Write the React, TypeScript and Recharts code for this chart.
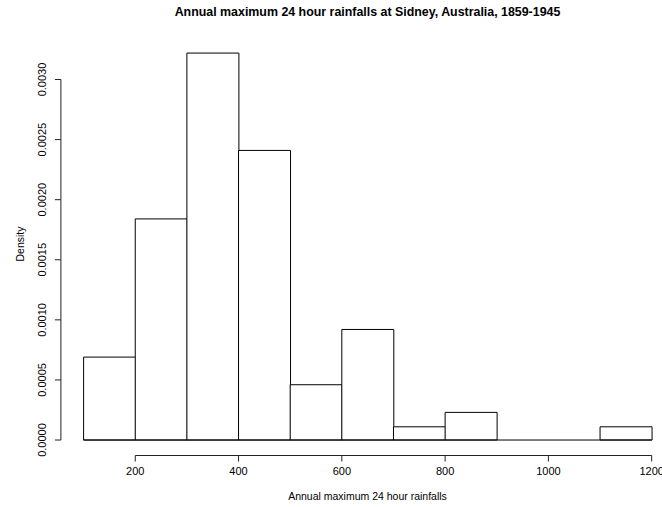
import React from 'react';
import { ComposedChart, Bar, XAxis, YAxis, ReferenceLine } from 'recharts';

// histogram bins (left edges) and densities
const binStarts = [100, 200, 300, 400, 500, 600, 700, 800, 900, 1000, 1100];
const densities = [0.00069, 0.00184, 0.00322, 0.00241, 0.00046, 0.00092, 0.00011, 0.00023, 0, 0, 0.00011];
const xTicks = [200, 400, 600, 800, 1000, 1200];
const yTicks = [0, 0.0005, 0.001, 0.0015, 0.002, 0.0025, 0.003];

const binWidth = 100;
const chartData = binStarts.map((s, i) => ({ bin: s + binWidth / 2, density: densities[i] }));

// R style 4% axis extension
const xMin = binStarts[0];
const xMax = binStarts[binStarts.length - 1] + binWidth;
const xExt = (xMax - xMin) * 0.04;
const yTop = Math.max(...densities);
const yExt = yTop * 0.04;

const font = '"Liberation Sans", Arial, sans-serif';
const Y_TICK_SIZE = 6;
const Y_TICK_MARGIN = 9;

// tick positions by index, so the axis line runs only from first to last tick (like R)
const tickPos: number[] = [];

const YTick = (props: any) => {
  const { x, y, payload, index } = props;
  tickPos[index] = y;
  const prev = index > 0 ? tickPos[index - 1] : undefined;
  const ax = x + Y_TICK_SIZE + Y_TICK_MARGIN;
  return (
    <g>
      {prev !== undefined && <line x1={ax} x2={ax} y1={y} y2={prev} stroke="#222" strokeWidth={1} />}
      <text x={x} y={y} transform={`rotate(-90, ${x}, ${y})`} textAnchor="middle" fontSize={11} fontFamily={font} fill="#000">
        {Number(payload.value).toFixed(4)}
      </text>
    </g>
  );
};

export default function App() {
  return (
    <div style={{ position: 'absolute', left: 0, top: 0, width: 662, height: 507, overflow: 'hidden', background: '#fff', fontFamily: font }}>
      <div style={{ position: 'absolute', left: 61, width: 613, top: 5, textAlign: 'center', fontWeight: 'bold', fontSize: 12.4, color: '#000' }}>
        Annual maximum 24 hour rainfalls at Sidney, Australia, 1859-1945
      </div>
      <div style={{ position: 'absolute', left: 61, width: 613, top: 490, textAlign: 'center', fontSize: 10.5, color: '#000' }}>
        Annual maximum 24 hour rainfalls
      </div>
      <div style={{ position: 'absolute', left: 20, top: 244, width: 0, height: 0 }}>
        <div style={{ position: 'absolute', transform: 'translate(-50%, -50%) rotate(-90deg)', fontSize: 10.5, whiteSpace: 'nowrap', color: '#000' }}>
          Density
        </div>
      </div>
      <ComposedChart
        width={680}
        height={507}
        data={chartData}
        barCategoryGap={0}
        barGap={0}
        margin={{ top: 37.6, right: 5.6, bottom: 21.5, left: 20.9 }}
      >
        <XAxis xAxisId="cat" dataKey="bin" type="category" hide height={0} padding={{ left: 22.7, right: 22.7 }} />
        <XAxis
          xAxisId="num"
          dataKey="bin"
          type="number"
          domain={[xMin - xExt, xMax + xExt]}
          ticks={xTicks}
          height={30}
          axisLine={false}
          tickSize={6}
          tickMargin={6}
          tickLine={{ stroke: '#222' }}
          tick={{ fontSize: 11, fontFamily: font, fill: '#000' }}
        />
        <YAxis
          type="number"
          width={40}
          domain={[-yExt, yTop + yExt]}
          ticks={yTicks}
          axisLine={false}
          tickSize={Y_TICK_SIZE}
          tickMargin={Y_TICK_MARGIN}
          tickLine={{ stroke: '#222' }}
          tick={<YTick />}
        />
        <Bar xAxisId="cat" dataKey="density" fill="#fff" stroke="#000" strokeWidth={1} isAnimationActive={false} />
        {/* bottom edges of the bins (also covers empty bins) */}
        <ReferenceLine xAxisId="num" segment={[{ x: xMin, y: 0 }, { x: xMax, y: 0 }]} stroke="#000" />
        {/* x axis line only over the tick range */}
        <ReferenceLine xAxisId="num" ifOverflow="visible" segment={[{ x: xTicks[0], y: -yExt }, { x: xTicks[xTicks.length - 1], y: -yExt }]} stroke="#222" />
      </ComposedChart>
    </div>
  );
}
